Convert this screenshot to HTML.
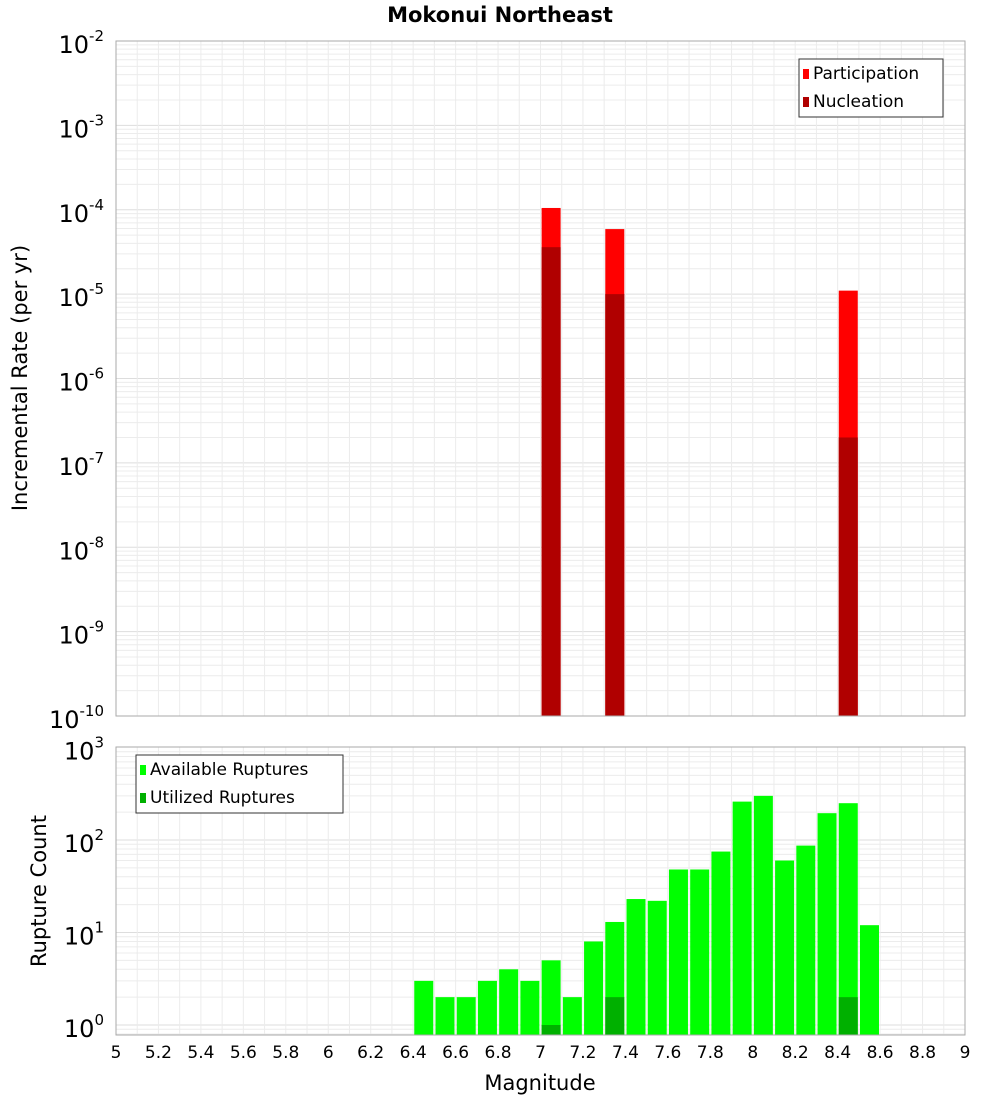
<!DOCTYPE html>
<html><head><meta charset="utf-8"><style>
body{margin:0;background:#fff;font-family:"DejaVu Sans","Liberation Sans",sans-serif}
svg text{font-family:"DejaVu Sans","Liberation Sans",sans-serif}
</style></head><body>
<svg id="c" width="1000" height="1100" xmlns="http://www.w3.org/2000/svg">
<text x="500" y="22" text-anchor="middle" font-size="21" font-weight="bold">Mokonui Northeast</text>
<g id="topPanel"></g><g id="botPanel"></g>
</svg>
<script>
const topMags=[7.05,7.35,8.45];
const participation=[1.05e-4,5.9e-5,1.1e-5];
const nucleation=[3.6e-5,1.0e-5,2.0e-7];
const botMags=[6.45,6.55,6.65,6.75,6.85,6.95,7.05,7.15,7.25,7.35,7.45,7.55,7.65,7.75,7.85,7.95,8.05,8.15,8.25,8.35,8.45,8.55];
const available=[3,2,2,3,4,3,5,2,8,13,23,22,48,48,75,260,300,60,87,195,250,12];
const utilMags=[7.05,7.35,8.45];
const utilized=[1,2,2];
const xTicks=["5","5.2","5.4","5.6","5.8","6","6.2","6.4","6.6","6.8","7","7.2","7.4","7.6","7.8","8","8.2","8.4","8.6","8.8","9"];
const topExp=[-2,-3,-4,-5,-6,-7,-8,-9,-10];
const botExp=[3,2,1,0];

(function(){
const NS="http://www.w3.org/2000/svg";
const X0=116,X1=965;
const x=m=>X0+(m-5)/4*(X1-X0);
const yT=v=>41+(-2-Math.log10(v))*84.375;
const yB=v=>747.5+(3-Math.log10(v))*92.5;
function el(p,t,a){const e=document.createElementNS(NS,t);for(const k in a)e.setAttribute(k,a[k]);p.appendChild(e);return e;}
const topG=document.getElementById('topPanel'),botG=document.getElementById('botPanel');

function panel(g,y0,y1,yf,e0,e1){
  const bg=el(g,'rect',{x:X0,y:y0,width:X1-X0,height:y1-y0,fill:'#fff'});
  
  
  for(let e=e1;e<e0;e++)for(let k=1;k<10;k++){const yy=yf(k*Math.pow(10,e));if(yy<y0||yy>y1)continue;
    el(g,'line',{x1:X0,x2:X1,y1:yy,y2:yy,stroke:k==1?'#ddd':'#ececec','stroke-width':1});}
  for(let i=0;i<=40;i++){const m=5+i*0.1;el(g,'line',{x1:x(m),x2:x(m),y1:y0,y2:y1,stroke:'#ececec','stroke-width':1});}
}
function frame(g,y0,y1){const f=el(g,'rect',{x:X0,y:y0,width:X1-X0,height:y1-y0,fill:'none',stroke:'#aaa'});
  }
panel(topG,41,716,yT,-2,-10);
panel(botG,747,1035,yB,3,-1);

topMags.forEach((m,i)=>{
  const r=el(topG,'rect',{x:x(m)-9.5,y:yT(participation[i]),width:19,height:716-yT(participation[i]),fill:'#ff0000'});
  
  
  const n=el(topG,'rect',{x:x(m)-9.5,y:yT(nucleation[i]),width:19,height:716-yT(nucleation[i]),fill:'#b00000'});
  
  
});
botMags.forEach((m,i)=>{
  const r=el(botG,'rect',{x:x(m)-9.5,y:yB(available[i]),width:19,height:1035-yB(available[i]),fill:'#00ff00'});
  
  
});
utilMags.forEach((m,i)=>{
  const r=el(botG,'rect',{x:x(m)-9.5,y:yB(utilized[i]),width:19,height:1035-yB(utilized[i]),fill:'#00b000'});
  
  
});
frame(topG,41,716);frame(botG,747,1035);

function powLabel(g,yy,e){
  const t=el(g,'text',{x:104,y:yy+12,'text-anchor':'end','font-size':24});
  
  
  t.appendChild(document.createTextNode('10'));
  const s=el(t,'tspan',{dy:-12,'font-size':15});
  s.textContent=String(e);
}
topExp.forEach(e=>powLabel(topG,yT(Math.pow(10,e)),e));
botExp.forEach(e=>powLabel(botG,yB(Math.pow(10,e)),e));
function txt(g,a,s,name){const t=el(g,'text',a);t.textContent=s;
  
  }
xTicks.forEach(s=>txt(botG,{x:x(parseFloat(s)),y:1058,'text-anchor':'middle','font-size':17},s,'x-tick-label'));
txt(botG,{x:540,y:1090,'text-anchor':'middle','font-size':21},'Magnitude','x-axis-title');
txt(topG,{x:27,y:378,'text-anchor':'middle','font-size':21,transform:'rotate(-90 27 378)'},'Incremental Rate (per yr)','y-axis-title-top');
txt(botG,{x:46,y:891,'text-anchor':'middle','font-size':21,transform:'rotate(-90 46 891)'},'Rupture Count','y-axis-title-bottom');

function legend(g,lx,ly,w,items,name){
  const b=el(g,'rect',{x:lx,y:ly,width:w,height:58,fill:'#fff',stroke:'#333'});
  
  
  items.forEach((it,i)=>{
    const sw=el(g,'rect',{x:lx+4,y:ly+10+i*28,width:6,height:10,fill:it[1]});
    
    
    txt(g,{x:lx+14,y:ly+20+i*28,'font-size':17},it[0],'legend-entry');
  });
}
legend(topG,799,59,144,[['Participation','#ff0000'],['Nucleation','#b00000']],'legend-top');
legend(botG,136,755,207,[['Available Ruptures','#00ff00'],['Utilized Ruptures','#00b000']],'legend-bottom');
})();
</script>
</body></html>
